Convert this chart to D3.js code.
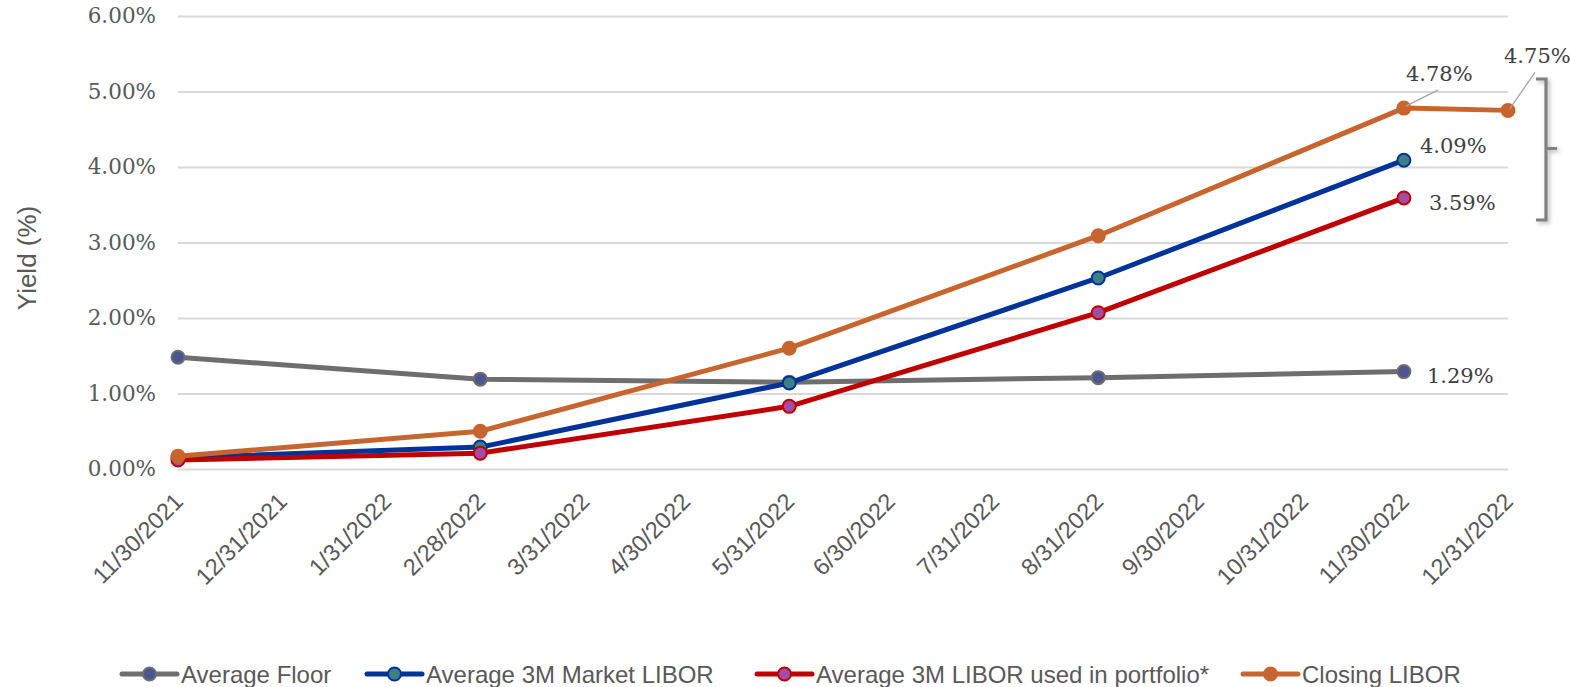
<!DOCTYPE html>
<html>
<head>
<meta charset="utf-8">
<script src="https://cdn.jsdelivr.net/npm/d3@7"></script>
<style>
  html, body { margin: 0; padding: 0; background: #ffffff; }
  svg { display: block; }
</style>
</head>
<body>
<svg id="chart" width="1570" height="687"></svg>
<script>
// Quarter-end observation dates and yields (%)
const dates = ["2021-11-30", "2022-02-28", "2022-05-31", "2022-08-31", "2022-11-30"];
const closingDates = ["2021-11-30", "2022-02-28", "2022-05-31", "2022-08-31", "2022-11-30", "2022-12-31"];
const averageFloor = [1.48, 1.19, 1.15, 1.21, 1.29];
const marketLibor = [0.15, 0.29, 1.14, 2.53, 4.09];
const portfolioLibor = [0.12, 0.21, 0.83, 2.07, 3.59];
const closingLibor = [0.17, 0.50, 1.60, 3.09, 4.78, 4.75];
const yTicks = [0, 1, 2, 3, 4, 5, 6];
const xTickDates = ["2021-11-30", "2021-12-31", "2022-01-31", "2022-02-28", "2022-03-31", "2022-04-30",
  "2022-05-31", "2022-06-30", "2022-07-31", "2022-08-31", "2022-09-30", "2022-10-31", "2022-11-30", "2022-12-31"];

const parse = d3.timeParse("%Y-%m-%d");
const fmtDate = d3.timeFormat("%-m/%-d/%Y");
const fmtPct = d => d3.format(".2f")(d) + "%";

const series = [
  { name: "Average Floor", dates: dates, values: averageFloor, line: "#6e6e6e", fill: "#4e548f", stroke: "#6e6e6e" },
  { name: "Average 3M Market LIBOR", dates: dates, values: marketLibor, line: "#00339a", fill: "#3d7f83", stroke: "#00339a" },
  { name: "Average 3M LIBOR used in portfolio*", dates: dates, values: portfolioLibor, line: "#c00000", fill: "#a24ca6", stroke: "#c00000" },
  { name: "Closing LIBOR", dates: closingDates, values: closingLibor, line: "#c8652f", fill: "#c8652f", stroke: "#c8652f" }
];

const svg = d3.select("#chart");
const plot = { left: 178, right: 1508, top: 16, bottom: 469 };

const x = d3.scaleTime()
  .domain([parse(xTickDates[0]), parse(xTickDates[xTickDates.length - 1])])
  .range([plot.left, plot.right]);
const y = d3.scaleLinear().domain([0, 6]).range([plot.bottom, plot.top]);

const textGray = "#595959";
const serif = "Georgia, 'DejaVu Serif', serif";
const sans = "'Liberation Sans', Arial, sans-serif";

// Horizontal gridlines and percentage labels
const yAxis = d3.axisLeft(y).tickValues(yTicks).tickSize(-(plot.right - plot.left)).tickFormat(fmtPct);
const gy = svg.append("g").attr("transform", `translate(${plot.left},0)`).call(yAxis);
gy.select(".domain").remove();
gy.selectAll(".tick line").attr("stroke", "#d9d9d9").attr("stroke-width", 2);
gy.selectAll(".tick text").attr("x", -22).attr("fill", textGray)
  .style("font-family", serif).style("font-size", "21.5px");

// Date axis with rotated labels
const xAxis = d3.axisBottom(x).tickValues(xTickDates.map(parse)).tickSize(0).tickFormat(fmtDate);
const gx = svg.append("g").attr("transform", `translate(0,${plot.bottom})`).call(xAxis);
gx.select(".domain").remove();
gx.selectAll(".tick text")
  .attr("fill", textGray)
  .style("font-family", sans).style("font-size", "23.5px")
  .attr("text-anchor", "end")
  .attr("x", 0).attr("y", 0).attr("dy", 0)
  .attr("transform", "translate(6,34) rotate(-45)");

// Axis title
svg.append("text")
  .attr("transform", "translate(36,258) rotate(-90)")
  .attr("text-anchor", "middle")
  .attr("fill", textGray)
  .style("font-family", sans).style("font-size", "26px")
  .text("Yield (%)");

// Lines and markers
const line = d3.line().x(d => x(d.date)).y(d => y(d.value));
series.forEach(s => {
  const pts = s.values.map((v, i) => ({ date: parse(s.dates[i]), value: v }));
  svg.append("path").datum(pts)
    .attr("d", line).attr("fill", "none")
    .attr("stroke", s.line).attr("stroke-width", 5).attr("stroke-linejoin", "round");
  svg.append("g").selectAll("circle").data(pts).join("circle")
    .attr("cx", d => x(d.date)).attr("cy", d => y(d.value)).attr("r", 6.5)
    .attr("fill", s.fill).attr("stroke", s.stroke).attr("stroke-width", 2);
});

// Value labels at the latest observations
const lastDate = parse(dates[dates.length - 1]);
const closeEnd = parse(closingDates[closingDates.length - 1]);
const labelStyle = sel => sel.attr("fill", "#404040").style("font-family", serif).style("font-size", "21px");

// leader lines for the closing LIBOR labels
svg.append("line")
  .attr("x1", x(lastDate) + 2).attr("y1", y(closingLibor[4]) - 2)
  .attr("x2", x(lastDate) + 34).attr("y2", y(closingLibor[4]) - 18)
  .attr("stroke", "#a6a6a6").attr("stroke-width", 1.3);
svg.append("line")
  .attr("x1", x(closeEnd) + 2).attr("y1", y(closingLibor[5]) - 2)
  .attr("x2", x(closeEnd) + 27).attr("y2", y(closingLibor[5]) - 38)
  .attr("stroke", "#a6a6a6").attr("stroke-width", 1.3);

svg.append("text").call(labelStyle).attr("x", x(lastDate) + 2).attr("y", y(closingLibor[4]) - 27)
  .text(fmtPct(closingLibor[4]));
svg.append("text").call(labelStyle).attr("x", x(closeEnd) - 4).attr("y", y(closingLibor[5]) - 47)
  .text(fmtPct(closingLibor[5]));
svg.append("text").call(labelStyle).attr("x", x(lastDate) + 16).attr("y", y(marketLibor[4]) - 7)
  .text(fmtPct(marketLibor[4]));
svg.append("text").call(labelStyle).attr("x", x(lastDate) + 25).attr("y", y(portfolioLibor[4]) + 12)
  .text(fmtPct(portfolioLibor[4]));
svg.append("text").call(labelStyle).attr("x", x(lastDate) + 23).attr("y", y(averageFloor[4]) + 11)
  .text(fmtPct(averageFloor[4]));

// Bracket grouping the LIBOR end values
const defs = svg.append("defs");
const f = defs.append("filter").attr("id", "shadow").attr("x", "-50%").attr("y", "-20%").attr("width", "200%").attr("height", "140%");
f.append("feDropShadow").attr("dx", 2).attr("dy", 2).attr("stdDeviation", 2).attr("flood-color", "#000").attr("flood-opacity", 0.3);
const bx = 1536, by0 = 79, by1 = 220, bw = 10;
const bm = (by0 + by1) / 2 - 1;
svg.append("path")
  .attr("d", `M${bx},${by0} H${bx + bw} V${bm} H${bx + bw + 11} M${bx + bw},${bm} V${by1} H${bx}`)
  .attr("fill", "none").attr("stroke", "#808080").attr("stroke-width", 3.2)
  .attr("filter", "url(#shadow)");

// Legend
const legendX = [122, 367, 757, 1243];
const lg = svg.append("g").attr("transform", "translate(0,674)");
series.forEach((s, i) => {
  const g = lg.append("g").attr("transform", `translate(${legendX[i]},0)`);
  g.append("line").attr("x1", 0).attr("x2", 55).attr("y1", 0).attr("y2", 0)
    .attr("stroke", s.line).attr("stroke-width", 5).attr("stroke-linecap", "round");
  g.append("circle").attr("cx", 27.5).attr("cy", 0).attr("r", 6.5)
    .attr("fill", s.fill).attr("stroke", s.stroke).attr("stroke-width", 2);
  g.append("text").attr("x", 59).attr("y", 8.5).attr("fill", textGray)
    .style("font-family", sans).style("font-size", "24px").text(s.name);
});
</script>
</body>
</html>
